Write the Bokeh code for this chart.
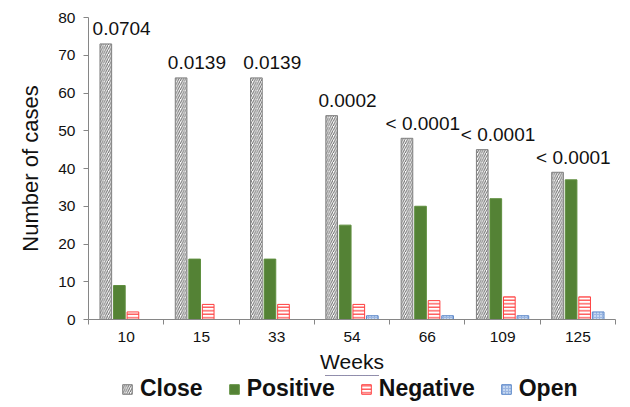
import numpy as np
from bokeh.plotting import figure
from bokeh.layouts import column
from bokeh.models import (ColumnDataSource, Range1d, FixedTicker, Legend, LegendItem)
from bokeh.core.properties import value
from bokeh.embed import file_html
from bokeh.resources import INLINE

weeks = ["10", "15", "33", "54", "66", "109", "125"]
close = [73, 64, 64, 54, 48, 45, 39]
positive = [9, 16, 16, 25, 30, 32, 37]
negative = [2, 4, 4, 4, 5, 6, 6]
open_ = [0, 0, 0, 1, 1, 1, 2]
pvalues = ["0.0704", "0.0139", "0.0139", "0.0002", "< 0.0001", "< 0.0001", "< 0.0001"]
series_names = ["Close", "Positive", "Negative", "Open"]
y_ticks = [0, 10, 20, 30, 40, 50, 60, 70, 80]

FONT = "Liberation Sans"
xs = np.arange(len(weeks)) + 0.5
bw = 0.155
offs = [-0.27, -0.09, 0.09, 0.27]

styles = [
    dict(fill_color="#ffffff", line_color="#7f7f7f", line_width=1, hatch_pattern="/",
         hatch_color="#6a6a6a", hatch_scale=4.5, hatch_weight=1),
    dict(fill_color="#548235", line_color="#5f8f3f", line_width=1),
    dict(fill_color="#ffffff", line_color="#ff4040", line_width=1, hatch_pattern="-",
         hatch_color="#ff3b3b", hatch_scale=3.5, hatch_weight=1.2),
    dict(fill_color="#c6d9f1", line_color="#5b87c8", line_width=1, hatch_pattern="+",
         hatch_color="#9bb6e2", hatch_scale=3, hatch_weight=1),
]

p = figure(frame_width=527, frame_height=302, output_backend="svg", toolbar_location=None,
           x_range=Range1d(0, len(weeks)), y_range=Range1d(0, 80),
           min_border_left=88, min_border_right=15, min_border_top=17, min_border_bottom=0)
p.outline_line_color = None
p.xgrid.visible = False
p.ygrid.visible = False

src = ColumnDataSource(dict(
    xc=xs + offs[0], xp=xs + offs[1], xn=xs + offs[2], xo=xs + offs[3],
    close=close, positive=positive, negative=negative, open=open_,
    xt=xs - 0.06, pv=pvalues))

cols = [("xc", "close"), ("xp", "positive"), ("xn", "negative"), ("xo", "open")]
for (xc, yc), st in zip(cols, styles):
    p.vbar(x=xc, top=yc, width=bw, source=src, **st)

p.text(x="xt", y="close", text="pv", source=src, text_align="center",
       text_baseline="alphabetic", y_offset=-15, text_font=value(FONT),
       text_font_size="19px", text_color="#111111")

# x axis
xa = p.xaxis[0]
xa.ticker = FixedTicker(ticks=list(xs), minor_ticks=list(range(len(weeks) + 1)))
xa.major_label_overrides = {float(x): w for x, w in zip(xs, weeks)}
xa.major_tick_out = 0
xa.major_tick_in = 0
xa.minor_tick_out = 5
xa.minor_tick_in = 0
xa.minor_tick_line_color = "#868686"
xa.axis_line_color = "#868686"
xa.major_label_standoff = 7
xa.major_label_text_font = FONT
xa.major_label_text_font_size = "15.5px"
xa.major_label_text_color = "#111111"
xa.axis_label = "Weeks"
xa.axis_label_text_font = FONT
xa.axis_label_text_font_size = "21px"
xa.axis_label_text_font_style = "normal"
xa.axis_label_text_color = "#111111"
xa.axis_label_standoff = 5

# y axis
ya = p.yaxis[0]
ya.ticker = FixedTicker(ticks=y_ticks)
ya.major_tick_out = 5
ya.major_tick_in = 0
ya.minor_tick_line_color = None
ya.major_tick_line_color = "#868686"
ya.axis_line_color = "#868686"
ya.major_label_standoff = 8
ya.major_label_text_font = FONT
ya.major_label_text_font_size = "15.5px"
ya.major_label_text_color = "#111111"
ya.axis_label = "Number of cases"
ya.axis_label_text_font = FONT
ya.axis_label_text_font_size = "22px"
ya.axis_label_text_font_style = "normal"
ya.axis_label_text_color = "#111111"
ya.axis_label_standoff = 12

# legend strip (separate small figure so the legend sits just below the axis title)
p2 = figure(width=630, height=30, output_backend="svg", toolbar_location=None,
            x_range=Range1d(0, 1), y_range=Range1d(0, 1),
            x_axis_location=None, y_axis_location=None, min_border=0)
p2.outline_line_color = None
p2.xgrid.visible = False
p2.ygrid.visible = False
offscreen = ColumnDataSource(dict(x=[0.5], bottom=[50], top=[60]))
items = []
for name, st in zip(series_names, styles):
    r = p2.vbar(x="x", bottom="bottom", top="top", width=0.1, source=offscreen, **st)
    items.append(LegendItem(label=name, renderers=[r]))

legend = Legend(items=items, orientation="horizontal", location=(33, 3),
                label_text_font=FONT, label_text_font_size="23px",
                label_text_font_style="bold", label_text_color="#111111",
                glyph_width=12, glyph_height=12, label_standoff=7, spacing=25,
                padding=0, margin=0, border_line_alpha=0, background_fill_alpha=0,
                label_height=20)
p2.add_layout(legend, "center")

layout = column(p, p2, spacing=0)
open("out.html", "w").write(file_html(layout, INLINE))
